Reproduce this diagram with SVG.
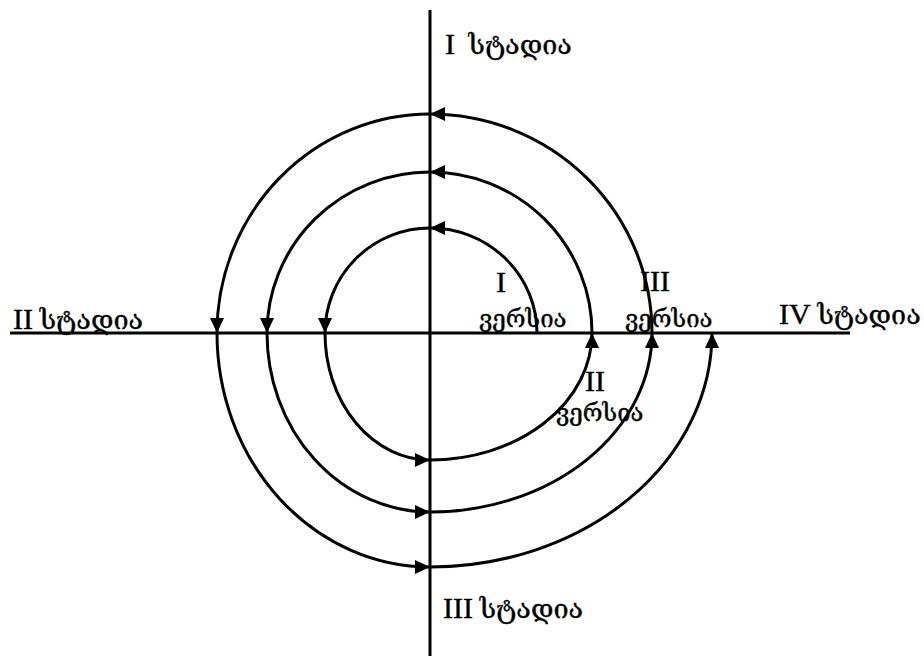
<svg xmlns="http://www.w3.org/2000/svg" width="924" height="658" viewBox="0 0 924 658">
<style>
.ax{stroke:#000;stroke-width:3;fill:none}
.sp{stroke:#000;stroke-width:3;fill:none;marker-end:url(#ah)}
.t{font-family:"Liberation Serif","DejaVu Serif",serif;font-size:27px;fill:#000;stroke:#000;stroke-width:0.4}
.n{font-size:30px}
.v{font-size:24px}
</style>
<defs>
<marker id="ah" markerUnits="userSpaceOnUse" markerWidth="16" markerHeight="14" refX="15" refY="7" orient="auto">
<path d="M0,0 L15,7 L0,14 Z" fill="#000"/>
</marker>
</defs>
<rect width="924" height="658" fill="#fff"/>
<g id="axes">
<line class="ax" x1="430" y1="10" x2="430" y2="656"/>
<line class="ax" x1="10" y1="333" x2="850" y2="333"/>
</g>
<g id="connectors">
<path class="sp" d="M537,333 A107,105 0 0 0 430,228"/>
<path class="sp" d="M430,228 A105,105 0 0 0 325,333"/>
<path class="sp" d="M325,333 A105,127 0 0 0 430,460"/>
<path class="sp" d="M430,460 A162,127 0 0 0 592,333"/>
<path class="sp" d="M592,333 A162,161 0 0 0 430,172"/>
<path class="sp" d="M430,172 A163,161 0 0 0 267,333"/>
<path class="sp" d="M267,333 A163,179 0 0 0 430,512"/>
<path class="sp" d="M430,512 A222,179 0 0 0 652,333"/>
<path class="sp" d="M652,333 A222,219 0 0 0 430,114"/>
<path class="sp" d="M430,114 A213,219 0 0 0 217,333"/>
<path class="sp" d="M217,333 A213,234 0 0 0 430,567"/>
<path class="sp" d="M430,567 A282,234 0 0 0 712,333"/>
</g>
<g id="stage1"><text class="t" x="445" y="54" xml:space="preserve"><tspan class="n">I</tspan>  სტადია</text></g>
<g id="stage2"><text class="t" x="13" y="329"><tspan class="n">II</tspan> სტადია</text></g>
<g id="stage3"><text class="t" x="443" y="618"><tspan class="n">III</tspan> სტადია</text></g>
<g id="stage4"><text class="t" x="779" y="324"><tspan class="n">IV</tspan> სტადია</text></g>
<g id="version1"><text class="t n" x="496" y="292">I</text><text class="t v" x="479" y="327">ვერსია</text></g>
<g id="version2"><text class="t n" x="585" y="391">II</text><text class="t v" x="556" y="421">ვერსია</text></g>
<g id="version3"><text class="t n" x="640" y="291">III</text><text class="t v" x="625" y="327">ვერსია</text></g>
</svg>
